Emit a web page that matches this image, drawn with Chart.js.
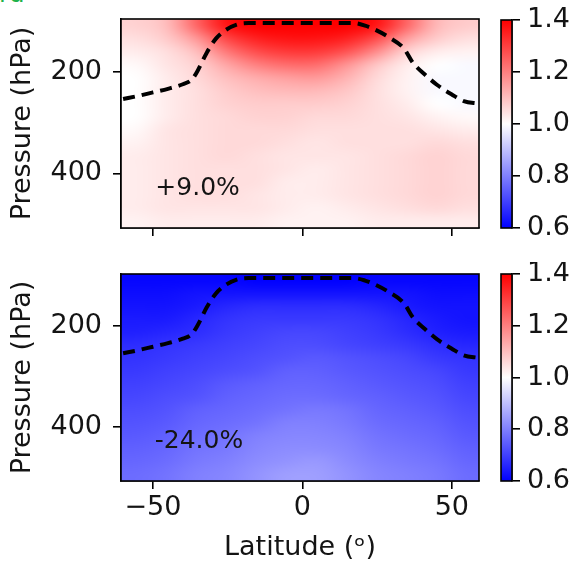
<!DOCTYPE html>
<html>
<head>
<meta charset="utf-8">
<script src="https://cdn.jsdelivr.net/npm/chart.js@4.4.1/dist/chart.umd.min.js"></script>
<style>
  body { margin: 0; background: #fff; width: 571px; height: 564px; position: relative; overflow: hidden; }
  canvas { position: absolute; }
  #c-top { left: 0; top: 0; }
  #c-bot { left: 0; top: 262px; }
  #cb-top { left: 490px; top: 0; }
  #cb-bot { left: 490px; top: 262px; }
  #stray { position: absolute; left: -1px; top: -21px; color: #1fb24a; font: 25px 'DejaVu Sans'; }
</style>
</head>
<body>
<div id="stray">rd</div>
<canvas id="c-top" width="490" height="262"></canvas>
<canvas id="c-bot" width="490" height="302"></canvas>
<canvas id="cb-top" width="81" height="262"></canvas>
<canvas id="cb-bot" width="81" height="302"></canvas>
<script>
// ─── Data ─────────────────────────────────────────────────────────────────────
const lats = [-55, -45, -35, -25, -15, -5, 5, 15, 25, 35, 45, 55];
const pressures = [112.5, 137.5, 162.5, 187.5, 212.5, 237.5, 262.5, 287.5,
                   312.5, 337.5, 362.5, 387.5, 412.5, 437.5, 462.5, 487.5];

// ratio, upper panel (rows = pressures, cols = lats)
const ratioUpper = [
  [1.07, 1.10, 1.24, 1.37, 1.40, 1.40, 1.40, 1.40, 1.37, 1.24, 1.11, 1.08],
  [1.05, 1.08, 1.16, 1.29, 1.35, 1.37, 1.37, 1.35, 1.28, 1.15, 1.08, 1.05],
  [1.03, 1.05, 1.10, 1.21, 1.28, 1.31, 1.31, 1.27, 1.18, 1.07, 1.03, 1.02],
  [1.01, 1.04, 1.07, 1.14, 1.20, 1.23, 1.23, 1.17, 1.09, 1.03, 1.00, 0.99],
  [1.00, 1.03, 1.06, 1.10, 1.13, 1.15, 1.16, 1.12, 1.06, 1.02, 0.99, 0.99],
  [1.00, 1.03, 1.05, 1.08, 1.10, 1.11, 1.11, 1.09, 1.05, 1.02, 0.99, 0.99],
  [1.00, 1.03, 1.05, 1.07, 1.08, 1.08, 1.08, 1.07, 1.05, 1.03, 1.00, 0.99],
  [1.00, 1.03, 1.05, 1.06, 1.07, 1.07, 1.06, 1.06, 1.05, 1.04, 1.02, 1.01],
  [1.01, 1.04, 1.05, 1.06, 1.06, 1.06, 1.05, 1.05, 1.05, 1.05, 1.04, 1.03],
  [1.02, 1.04, 1.05, 1.06, 1.06, 1.05, 1.04, 1.05, 1.05, 1.05, 1.06, 1.05],
  [1.03, 1.04, 1.05, 1.06, 1.05, 1.04, 1.04, 1.04, 1.05, 1.06, 1.07, 1.06],
  [1.03, 1.04, 1.05, 1.05, 1.05, 1.04, 1.03, 1.04, 1.05, 1.06, 1.07, 1.06],
  [1.03, 1.04, 1.05, 1.05, 1.05, 1.03, 1.03, 1.04, 1.05, 1.06, 1.07, 1.06],
  [1.03, 1.04, 1.05, 1.05, 1.04, 1.03, 1.03, 1.04, 1.05, 1.06, 1.07, 1.06],
  [1.03, 1.04, 1.04, 1.04, 1.04, 1.03, 1.02, 1.03, 1.04, 1.05, 1.06, 1.05],
  [1.02, 1.03, 1.03, 1.03, 1.03, 1.02, 1.02, 1.02, 1.03, 1.03, 1.03, 1.03]
];

// ratio, lower panel
const ratioLower = [
  [0.61, 0.61, 0.61, 0.61, 0.60, 0.60, 0.60, 0.60, 0.61, 0.61, 0.61, 0.61],
  [0.62, 0.62, 0.63, 0.63, 0.63, 0.63, 0.63, 0.63, 0.63, 0.63, 0.62, 0.62],
  [0.63, 0.63, 0.64, 0.66, 0.67, 0.67, 0.67, 0.67, 0.66, 0.64, 0.63, 0.63],
  [0.64, 0.64, 0.66, 0.68, 0.69, 0.69, 0.69, 0.69, 0.68, 0.66, 0.64, 0.63],
  [0.65, 0.66, 0.67, 0.69, 0.70, 0.71, 0.71, 0.70, 0.69, 0.67, 0.65, 0.64],
  [0.67, 0.68, 0.69, 0.70, 0.71, 0.72, 0.72, 0.71, 0.70, 0.69, 0.67, 0.66],
  [0.68, 0.69, 0.70, 0.71, 0.72, 0.73, 0.74, 0.73, 0.72, 0.71, 0.69, 0.68],
  [0.69, 0.70, 0.71, 0.72, 0.73, 0.75, 0.75, 0.74, 0.73, 0.72, 0.71, 0.69],
  [0.70, 0.71, 0.72, 0.74, 0.75, 0.76, 0.76, 0.75, 0.74, 0.73, 0.72, 0.70],
  [0.71, 0.72, 0.73, 0.75, 0.76, 0.77, 0.77, 0.76, 0.75, 0.74, 0.73, 0.71],
  [0.72, 0.73, 0.75, 0.76, 0.77, 0.78, 0.79, 0.78, 0.76, 0.75, 0.74, 0.72],
  [0.73, 0.74, 0.76, 0.77, 0.78, 0.80, 0.80, 0.79, 0.77, 0.76, 0.75, 0.73],
  [0.74, 0.75, 0.77, 0.78, 0.80, 0.81, 0.81, 0.80, 0.78, 0.77, 0.76, 0.74],
  [0.75, 0.76, 0.78, 0.79, 0.81, 0.82, 0.82, 0.81, 0.79, 0.78, 0.77, 0.75],
  [0.76, 0.77, 0.79, 0.80, 0.82, 0.83, 0.84, 0.82, 0.80, 0.79, 0.78, 0.76],
  [0.77, 0.78, 0.80, 0.81, 0.83, 0.85, 0.85, 0.83, 0.81, 0.80, 0.79, 0.77]
];

// tropopause (dashed line), same in both panels
const tropLat = [-60, -55, -50, -45, -40, -37, -35, -32, -29, -26, -22, -18, -10, 0, 10, 17, 21, 24, 29, 34, 37, 41, 45, 50, 54, 59];
const tropP   = [254, 248, 241, 234, 225, 216, 198, 163, 136, 120, 108, 105, 105, 105, 105, 105, 110, 117, 133, 155, 183, 206, 226, 245, 258, 263];

const latTicks = [-50, 0, 50];
const pTicks = [200, 400];
const cbarTicks = [0.6, 0.8, 1.0, 1.2, 1.4];
const panelLabels = ['+9.0%', '-24.0%'];

// ─── Helpers ──────────────────────────────────────────────────────────────────
const FONT = "'DejaVu Sans'";
const INK = '#141414';
Chart.defaults.font.family = FONT;
Chart.defaults.font.size = 27;
Chart.defaults.color = INK;

// matplotlib 'bwr', normalised over the colourbar range
function bwr(v) {
  const lo = cbarTicks[0], hi = cbarTicks[cbarTicks.length - 1], mid = (lo + hi) / 2;
  if (v <= mid) {
    const t = Math.max(0, (v - lo) / (mid - lo));
    return [Math.round(255 * t), Math.round(255 * t), 255];
  }
  const t = Math.min(1, (v - mid) / (hi - mid));
  return [255, Math.round(255 * (1 - t)), Math.round(255 * (1 - t))];
}

const heatmapPlugin = {
  id: 'heatmap',
  beforeDatasetsDraw(chart, args, opts) {
    const grid = opts.values;
    if (!grid) return;
    const { ctx, chartArea: a, scales: { x, y } } = chart;
    const nx = lats.length, ny = pressures.length;
    const off = document.createElement('canvas');
    off.width = nx; off.height = ny;
    const octx = off.getContext('2d');
    const img = octx.createImageData(nx, ny);
    grid.forEach((row, j) => row.forEach((v, i) => {
      const [r, g, b] = bwr(v);
      const k = (j * nx + i) * 4;
      img.data[k] = r; img.data[k + 1] = g; img.data[k + 2] = b; img.data[k + 3] = 255;
    }));
    octx.putImageData(img, 0, 0);
    const dLat = lats[1] - lats[0], dP = pressures[1] - pressures[0];
    const x0 = Math.min(x.getPixelForValue(lats[0] - dLat / 2), a.left);
    const x1 = Math.max(x.getPixelForValue(lats[nx - 1] + dLat / 2), a.right);
    const y0 = Math.min(y.getPixelForValue(pressures[0] - dP / 2), a.top);
    const y1 = Math.max(y.getPixelForValue(pressures[ny - 1] + dP / 2), a.bottom);
    ctx.save();
    ctx.beginPath();
    ctx.rect(a.left, a.top, a.width, a.height);
    ctx.clip();
    ctx.imageSmoothingEnabled = true;
    ctx.imageSmoothingQuality = 'high';
    ctx.drawImage(off, x0, y0, x1 - x0, y1 - y0);
    ctx.restore();
  }
};

const framePlugin = {
  id: 'frame',
  afterDatasetsDraw(chart) {
    const { ctx, chartArea: a } = chart;
    ctx.save();
    ctx.strokeStyle = '#000';
    ctx.lineWidth = 1.6;
    ctx.strokeRect(a.left, a.top, a.width, a.height);
    ctx.restore();
  }
};

const labelPlugin = {
  id: 'panelLabel',
  afterDatasetsDraw(chart, args, opts) {
    if (!opts.text) return;
    const { ctx, scales: { x, y } } = chart;
    ctx.save();
    ctx.font = `25px ${FONT}`;
    ctx.fillStyle = INK;
    ctx.textAlign = 'left';
    ctx.textBaseline = 'alphabetic';
    ctx.fillText(opts.text, x.getPixelForValue(opts.lat), y.getPixelForValue(opts.p));
    ctx.restore();
  }
};

const fixedBox = (w, h) => s => {
  if (w != null) s.width = w;
  if (h != null) s.height = h;
  s.paddingTop = s.paddingBottom = s.paddingLeft = s.paddingRight = 0;
};

const axisLines = {
  grid: { drawOnChartArea: false, drawTicks: true, tickLength: 8, color: '#000', lineWidth: 1.6 },
  border: { display: true, color: '#000', width: 1.6 }
};

// ─── Main panels ──────────────────────────────────────────────────────────────
function makePanel(id, values, label, opts) {
  return new Chart(document.getElementById(id), {
    type: 'scatter',
    data: {
      datasets: [{
        data: tropLat.map((lat, i) => ({ x: lat, y: tropP[i] })),
        showLine: true,
        borderColor: '#000',
        borderWidth: 4,
        borderDash: [12, 7],
        pointRadius: 0,
        cubicInterpolationMode: 'monotone'
      }]
    },
    options: {
      responsive: false,
      animation: false,
      events: [],
      layout: { padding: { top: opts.top, right: 11, left: 0, bottom: 0 } },
      plugins: {
        legend: { display: false },
        tooltip: { enabled: false },
        heatmap: { values },
        panelLabel: { text: label.text, lat: label.lat, p: label.p }
      },
      scales: {
        x: {
          type: 'linear', min: -60.7, max: 59.1,
          afterBuildTicks: s => { s.ticks = latTicks.map(v => ({ value: v })); },
          afterFit: fixedBox(null, opts.xh),
          ticks: { display: opts.xLabels, padding: 3, callback: v => String(v).replace('-', '\u2212') },
          title: { display: opts.xLabels, text: 'Latitude (\u1D52)', padding: { top: 0, bottom: 0 } },
          ...axisLines
        },
        y: {
          type: 'linear', min: 97, max: 507, reverse: true,
          afterBuildTicks: s => { s.ticks = pTicks.map(v => ({ value: v })); },
          afterFit: fixedBox(121, null),
          ticks: { padding: 11 },
          title: { display: true, text: 'Pressure (hPa)', padding: { top: 7, bottom: 0 } },
          ...axisLines
        }
      }
    },
    plugins: [heatmapPlugin, framePlugin, labelPlugin]
  });
}

// ─── Colour bars ──────────────────────────────────────────────────────────────
function makeColorbar(id, top, bottom) {
  const lo = cbarTicks[0], hi = cbarTicks[cbarTicks.length - 1];
  return new Chart(document.getElementById(id), {
    type: 'bar',
    data: {
      labels: ['ratio'],
      datasets: [{
        data: [[lo, hi]],
        borderWidth: 0,
        barPercentage: 1,
        categoryPercentage: 1,
        backgroundColor: c => {
          const { chart } = c;
          if (!chart.chartArea) return '#fff';
          const y = chart.scales.y;
          const g = chart.ctx.createLinearGradient(0, y.getPixelForValue(lo), 0, y.getPixelForValue(hi));
          [lo, (lo + hi) / 2, hi].forEach((v, i) => g.addColorStop(i / 2, `rgb(${bwr(v).join(',')})`));
          return g;
        }
      }]
    },
    options: {
      responsive: false,
      animation: false,
      events: [],
      layout: { padding: { top, bottom, left: 11, right: 0 } },
      plugins: { legend: { display: false }, tooltip: { enabled: false } },
      scales: {
        x: { display: false },
        y: {
          position: 'right', min: lo, max: hi,
          afterBuildTicks: s => { s.ticks = cbarTicks.map(v => ({ value: v })); },
          afterFit: fixedBox(59, null),
          ticks: { padding: 7, callback: v => v.toFixed(1) },
          ...axisLines
        }
      }
    },
    plugins: [framePlugin]
  });
}

makePanel('c-top', ratioUpper, { text: panelLabels[0], lat: -49.2, p: 442 }, { top: 19, xh: 34, xLabels: false });
makePanel('c-bot', ratioLower, { text: panelLabels[1], lat: -49.4, p: 441 }, { top: 12, xh: 83, xLabels: true });
makeColorbar('cb-top', 20, 34);
makeColorbar('cb-bot', 12, 83);
</script>
</body>
</html>
